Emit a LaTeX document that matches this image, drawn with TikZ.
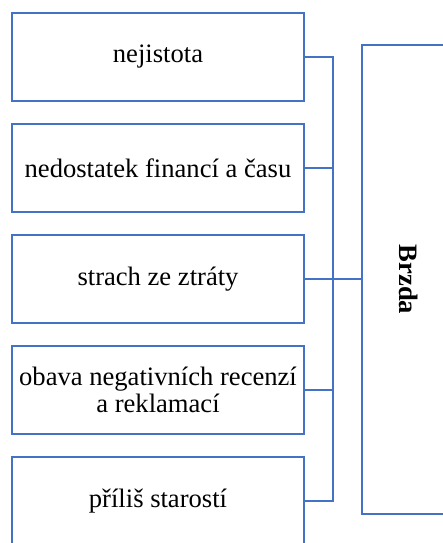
\documentclass[tikz,border=0pt]{standalone}
\usepackage{fontspec}
\setmainfont{Liberation Serif}
\usetikzlibrary{positioning}
\definecolor{boxblue}{RGB}{68,114,196}

\begin{document}
\begin{tikzpicture}
		[x=0.5pt,y=-0.5pt,node distance=10.2pt,
		causebox/.style={rectangle, draw=boxblue, line width=1.3pt, minimum width=146pt, minimum height=44pt, inner sep=0pt, align=center, font=\fontsize{13.3}{13.5}\selectfont},
		mainbox/.style={rectangle, draw=boxblue, line width=1.3pt, minimum width=47pt, minimum height=234.5pt, inner sep=0pt, font=\fontsize{13.3}{14}\selectfont\bfseries},
		link/.style={draw=boxblue, line width=1.3pt},
		]
		\useasboundingbox (0,0) rectangle (443,543);
		\clip (0,0) rectangle (443,543);
		
		%Nodes
		\node[causebox](uncertainty) at (158,57) {nejistota};
		\node[causebox](money)[below=of uncertainty] {nedostatek financí a času};
		\node[causebox](loss)[below=of money] {strach ze ztráty};
		\node[causebox](reviews)[below=of loss] {obava negativních recenzí\\a reklamací};
		\node[causebox](worries)[below=of reviews] {příliš starostí};
		\node[mainbox](brake) at (409,279.5) {\rotatebox{-90}{Brzda}};
		\coordinate (bus) at (333,0);
		%Lines
		\draw[link](uncertainty.east) -- (uncertainty.east -| bus) -- (worries.east -| bus) -- (worries.east);
		\draw[link](money.east) -- (money.east -| bus);
		\draw[link](reviews.east) -- (reviews.east -| bus);
		\draw[link](loss.east) -- (loss.east -| brake.west);
	\end{tikzpicture}
\end{document}
